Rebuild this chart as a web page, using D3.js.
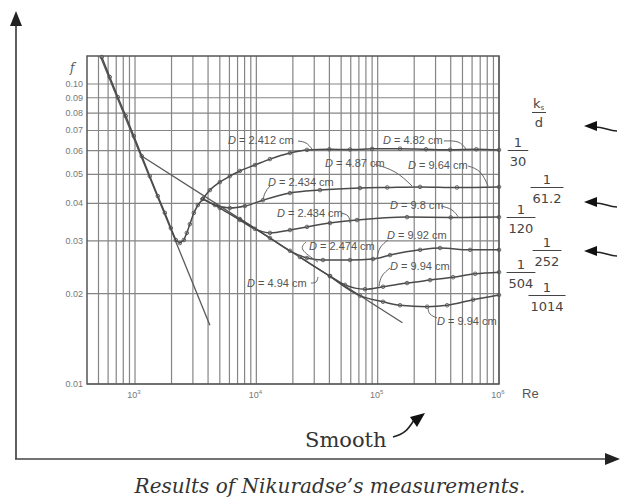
<!doctype html>
<html>
<head>
<meta charset="utf-8">
<title>Nikuradse</title>
<script src="https://d3js.org/d3.v7.min.js"></script>
<style>
  body { margin:0; background:#fff; }
  svg { display:block; }
  .grid line { stroke:#858585; stroke-width:1.2; }
  .frame { fill:none; stroke:#555; stroke-width:1.5; }
  .tick { font-family:"Liberation Sans", Arial, sans-serif; font-size:9px; fill:#777; }
  .note { font-family:"Liberation Sans", Arial, sans-serif; font-size:11px; fill:#555; }
  .lead { fill:none; stroke:#666; stroke-width:1; }
  .frac { font-family:"DejaVu Sans", sans-serif; font-size:13px; fill:#444; }
  .curve { fill:none; stroke:#4a4a4a; stroke-width:1.5; }
  .theory { fill:none; stroke:#5a5a5a; stroke-width:1.3; }
  .pt { fill:none; stroke:#555; stroke-width:0.9; }
  .serif { font-family:"DejaVu Serif", serif; fill:#333; }
</style>
</head>
<body>
<svg id="chart" width="620" height="499"></svg>
<script>
// ---- values (Re, f) ----
const fTicks      = [0.01, 0.02, 0.03, 0.04, 0.05, 0.06, 0.07, 0.08, 0.09, 0.10];
const fTickLabels = ["0.01","0.02","0.03","0.04","0.05","0.06","0.07","0.08","0.09","0.10"];
const reTicks     = [1e3, 1e4, 1e5, 1e6];
const reExponents = ["3", "4", "5", "6"];

const laminar = [[520, 0.123], [4140, 0.0157]];
const blasius = [[1100, 0.058], [160000, 0.0160]];

const transition = [[532,0.123],[619,0.1055],[721,0.0905],[839,0.0782],[977,0.0671],
  [1137,0.0575],[1324,0.0493],[1541,0.0423],[1761,0.0372],[1973,0.0331],[2170,0.0302],
  [2340,0.0295],[2525,0.0302],[2674,0.0319],[2830,0.0341],[3053,0.0372],[3294,0.0395],[3623,0.0414]];

const r30   = [[3623,0.0414],[4140,0.0443],[5000,0.0471],[6050,0.0493],[7310,0.0513],[9730,0.0537],
  [12940,0.0562],[18920,0.0589],[26140,0.0603],[40000,0.0606],[59150,0.0605],[90000,0.0608],
  [152900,0.0609],[250000,0.0606],[395300,0.0604],[650000,0.0606],[1000000,0.0603]];
const r61   = [[3623,0.0414],[4551,0.0395],[6050,0.0386],[8046,0.0392],[11330,0.0410],[18920,0.0433],
  [33450,0.0443],[71530,0.0450],[120000,0.0452],[223600,0.0454],[450000,0.0452],[1000000,0.0454]];
const r120  = [[3623,0.0414],[5000,0.0386],[7310,0.0352],[9730,0.0329],[12940,0.0319],[18920,0.0326],
  [26140,0.0334],[40460,0.0344],[67550,0.0352],[174700,0.0360],[400000,0.0359],[1000000,0.0360]];
const r252  = [[7310,0.0355],[12940,0.0307],[18920,0.0278],[26140,0.0263],[35410,0.0259],[59150,0.0259],
  [91560,0.0261],[126500,0.0269],[223600,0.0280],[326900,0.0284],[578200,0.0280],[1000000,0.0280]];
const r504  = [[22880,0.0265],[40460,0.0229],[53790,0.0214],[78650,0.0207],[110700,0.0211],[174700,0.0217],
  [270400,0.0222],[418600,0.0227],[635900,0.0233],[1000000,0.0236]];
const r1014 = [[40460,0.0229],[71530,0.0197],[110700,0.0188],[152900,0.0183],[255500,0.0181],
  [373500,0.0183],[612100,0.0191],[1000000,0.0198]];

const roughCurves  = [r30, r61, r120, r252, r504, r1014];
const roughDenoms  = ["30", "61.2", "120", "252", "504", "1014"];
const diameterText = ["2.412","4.82","4.87","9.64","2.434","9.8","2.434","9.92","2.474","9.94","4.94","9.94"];

// ---- layout ----
const svg = d3.select("#chart");
const x = d3.scaleLog().domain([402, 1e6]).range([87, 499]);
const y = d3.scaleLog().domain([0.01, 0.124]).range([384, 56]);

// label placement for the D = ... notes (text x, baseline y, leader path)
const notePos = [
  [228,144,[[298,141],[306,143],[312,149]]],
  [383,144,[[444,141],[458,142],[466,149]]],
  [325,167,[[374,164],[395,172],[412,186]]],
  [408,169,[[468,166],[480,172],[488,186]]],
  [268,186,[[270,186],[265,193],[263,201]]],
  [390,209,[[441,206],[452,210],[459,218]]],
  [277,217,[[341,213],[348,216],[350,223]]],
  [387,239,[[388,240],[380,248],[377,259]]],
  [309,250,[[306,242],[303,250],[318,262]]],
  [390,270,[[390,268],[382,276],[379,286]]],
  [247,287,[[311,283],[316,282],[318,277]]],
  [437,325,[[437,318],[430,314],[428,308]]]
];
const fracX = [518, 547, 521, 547, 521, 547];
const sideArrowY = [127, 203, 252];

// outer axes with arrowheads
svg.append("line").attr("x1",16).attr("y1",459).attr("x2",16).attr("y2",22)
  .attr("stroke","#444").attr("stroke-width",1.7);
svg.append("path").attr("d","M16,11 L10,26 L22,26 Z").attr("fill","#222");
svg.append("line").attr("x1",15).attr("y1",459).attr("x2",608).attr("y2",459)
  .attr("stroke","#444").attr("stroke-width",1.7);
svg.append("path").attr("d","M620,459 L605,453 L605,465 Z").attr("fill","#222");

// grid
const grid = svg.append("g").attr("class","grid");
grid.selectAll(".v").data(x.ticks()).join("line")
  .attr("x1",d=>x(d)).attr("x2",d=>x(d)).attr("y1",56).attr("y2",384);
grid.selectAll(".h").data(fTicks).join("line")
  .attr("x1",87).attr("x2",499).attr("y1",d=>y(d)).attr("y2",d=>y(d));
svg.append("rect").attr("class","frame").attr("x",87).attr("y",56).attr("width",412).attr("height",328);

// tick labels
svg.selectAll(".fl").data(fTicks).join("text").attr("class","tick")
  .attr("x",83).attr("y",d=>y(d)+3).attr("text-anchor","end")
  .text((d,i)=>fTickLabels[i]);
svg.append("text").attr("x",70).attr("y",72).attr("font-family","DejaVu Serif, serif")
  .attr("font-style","italic").attr("font-size",12).attr("fill","#555").text("f");
const xl = svg.selectAll(".xl").data(reTicks).join("text").attr("class","tick")
  .attr("x",d=>x(d)-1).attr("y",398).attr("text-anchor","middle");
xl.append("tspan").text("10");
xl.append("tspan").attr("dy",-4).attr("font-size",6).text((d,i)=>reExponents[i]);
svg.append("text").attr("x",522).attr("y",398).attr("font-family","Liberation Sans, Arial, sans-serif")
  .attr("font-size",13).attr("fill","#555").text("Re");

// theory lines
const line = d3.line().x(d=>x(d[0])).y(d=>y(d[1]));
svg.append("path").attr("class","theory").attr("d",line(laminar));
svg.append("path").attr("class","theory").attr("d",line(blasius));

// measured curves
const smooth = d3.line().x(d=>x(d[0])).y(d=>y(d[1])).curve(d3.curveMonotoneX);
svg.append("path").attr("class","curve").attr("d",line(transition));
roughCurves.forEach(c => svg.append("path").attr("class","curve").attr("d",smooth(c)));
[transition, ...roughCurves].forEach(c => {
  svg.append("g").selectAll("circle").data(c).join("circle").attr("class","pt")
    .attr("cx",d=>x(d[0])).attr("cy",d=>y(d[1])).attr("r",1.8);
});

// D = ... notes
const leadLine = d3.line().curve(d3.curveNatural);
notePos.forEach((p,i) => {
  const t = svg.append("text").attr("class","note").attr("x",p[0]).attr("y",p[1]);
  t.append("tspan").attr("font-style","italic").text("D");
  t.append("tspan").text(" = " + diameterText[i] + " cm");
  svg.append("path").attr("class","lead").attr("d",leadLine(p[2]));
});

// roughness fractions on the right
svg.append("text").attr("class","frac").attr("font-size",11).attr("x",533).attr("y",108).text("k")
  .append("tspan").attr("font-size",7).attr("dy",2).text("s");
svg.append("line").attr("x1",532).attr("x2",546).attr("y1",112.5).attr("y2",112.5).attr("stroke","#444");
svg.append("text").attr("class","frac").attr("font-size",11).attr("x",539).attr("y",127)
  .attr("text-anchor","middle").text("d");

roughCurves.forEach((c,i) => {
  const by = Math.round(y(c[c.length-1][1])) + 0.5;
  const cx = fracX[i];
  const den = svg.append("text").attr("class","frac").attr("x",cx).attr("y",by+15)
    .attr("text-anchor","middle").text(roughDenoms[i]);
  const w = den.node().getComputedTextLength() + 4;
  svg.append("text").attr("class","frac").attr("x",cx).attr("y",by-4)
    .attr("text-anchor","middle").text("1");
  svg.append("line").attr("x1",cx-w/2).attr("x2",cx+w/2).attr("y1",by).attr("y2",by)
    .attr("stroke","#444").attr("stroke-width",1);
});

// side arrows
sideArrowY.forEach(ay => {
  svg.append("path").attr("d",`M617,${ay+4} C609,${ay+4} 604,${ay} 595,${ay}`)
    .attr("fill","none").attr("stroke","#222").attr("stroke-width",1.6);
  svg.append("path").attr("d",`M584,${ay-1} L597,${ay-6} L597,${ay+4} Z`).attr("fill","#111");
});

// Smooth label + arrow
svg.append("text").attr("class","serif").attr("x",305).attr("y",447).attr("font-size",21).text("Smooth");
svg.append("path").attr("d","M393,437 C404,434 408,430 414,420")
  .attr("fill","none").attr("stroke","#222").attr("stroke-width",1.6);
svg.append("path").attr("d","M425,413 L410,417 L417,427 Z").attr("fill","#111");

// caption
svg.append("text").attr("class","serif").attr("x",330).attr("y",493).attr("text-anchor","middle")
  .attr("font-size",20).attr("font-style","italic").text("Results of Nikuradse\u2019s measurements.");
</script>
</body>
</html>
